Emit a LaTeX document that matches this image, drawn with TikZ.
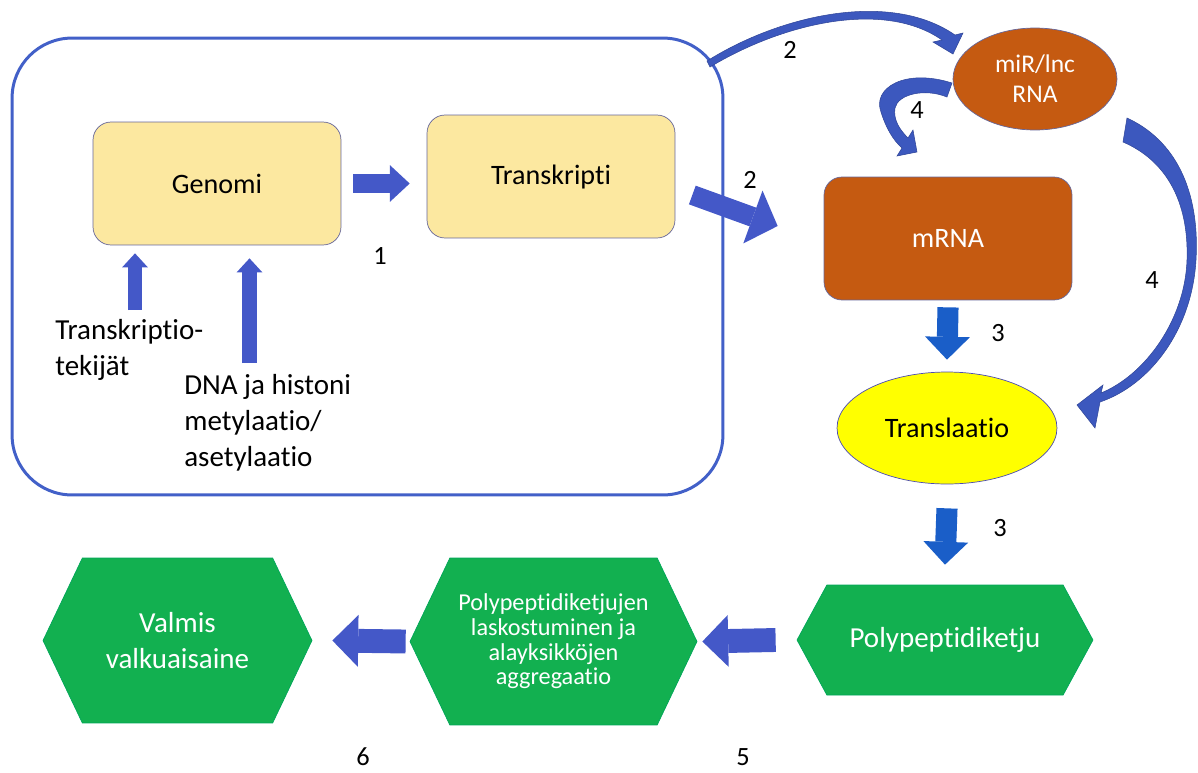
\documentclass[tikz,border=0pt]{standalone}
\usepackage{fontspec}
\setmainfont{Carlito}[Ligatures={NoCommon,NoContextual}, RawFeature=-liga, RawFeature=-clig, RawFeature=-calt]
\usetikzlibrary{shapes.geometric,shapes.symbols,arrows.meta}

\definecolor{tumasin}{RGB}{66,96,200}
\definecolor{nuolisin}{RGB}{68,88,200}
\definecolor{nuolisin2}{RGB}{26,94,200}
\definecolor{kaarisin}{RGB}{60,88,190}
\definecolor{vaaleankelt}{RGB}{252,232,160}
\definecolor{ruskea}{RGB}{197,90,17}
\definecolor{keltainen}{RGB}{255,255,0}
\definecolor{vihrea}{RGB}{18,176,80}

\begin{document}
\begin{tikzpicture}[x=0.02cm, y=-0.02cm,
    laatikko/.style={draw=gray!80!blue, fill=vaaleankelt, rounded corners=0.36cm,
        minimum width=4.96cm, minimum height=2.46cm, font=\fontsize{16}{19}\selectfont},
    rnalaatikko/.style={laatikko, fill=ruskea, text=white},
    kuusikulmio/.style={shape=signal, signal to=west and east, fill=vihrea,
        draw=teal!70!green, text=white, inner sep=0pt, align=center},
    teksti/.style={inner sep=0pt, align=left},
    numero/.style={inner sep=0pt, font=\fontsize{15}{18}\selectfont},
    lohkonuoli/.style={draw=nuolisin, line width=10.8pt,
        -{Triangle[length=11.3pt, width=21pt, line width=0pt]}},
    isonuoli/.style={draw=nuolisin, line width=11.3pt,
        -{Triangle[length=15pt, width=32pt, line width=0pt]}},
    alasnuoli/.style={draw=nuolisin2, line width=12pt,
        -{Triangle[length=13pt, width=25.5pt, line width=0pt]}},
    vasennuoli/.style={draw=nuolisin, line width=13.6pt,
        -{Triangle[length=14.7pt, width=29.5pt, line width=0pt]}},
    ylosnuoli/.style={draw=nuolisin, line width=8.5pt,
        -{Triangle[length=8pt, width=14.7pt, line width=0pt]}},
    kaarinuoli/.style={fill=kaarisin, draw=kaarisin!80!black, line width=0.3pt}
]
\useasboundingbox (0,0) rectangle (1198,772);

% tuma ja sen sisalla tapahtuva transkriptio
\node[draw=tumasin, line width=1.7pt, rounded corners=1.2cm,
    minimum width=14.22cm, minimum height=9.14cm] (tuma) at (367.5,266.5) {};
\node[laatikko] (genomi) at (217,183.5) {Genomi};
\node[laatikko] (transkripti) at (551,176.5) {Transkripti};
\node[teksti, anchor=north west, font=\fontsize{16.5}{20.4}\selectfont] (tekijat) at (55,319)
    {Transkriptio-\\tekijät};
\node[teksti, anchor=north west, font=\fontsize{16.5}{20.4}\selectfont] (dna) at (184,374)
    {DNA ja histoni\\metylaatio/\\asetylaatio};

% RNA:t ja translaatio
\node[rnalaatikko] (mrna) at (948,238.5) {mRNA};
\node[ellipse, draw=gray!80!blue, fill=ruskea, text=white, inner sep=0pt,
    minimum width=3.28cm, minimum height=2.04cm, align=center,
    font=\fontsize{14.5}{17}\selectfont] (mir) at (1035,79) {miR/lnc\\RNA};
\node[ellipse, draw=gray!60!blue, fill=keltainen, inner sep=0pt,
    minimum width=4.4cm, minimum height=2.24cm,
    font=\fontsize{16}{19}\selectfont] (translaatio) at (947,428) {Translaatio};

% proteiinin muodostuminen
\node[kuusikulmio, minimum width=5.92cm, minimum height=2.2cm, signal pointer angle=123,
    font=\fontsize{16.5}{20}\selectfont] (ketju) at (945,640) {Polypeptidiketju};
\node[kuusikulmio, minimum width=5.74cm, minimum height=3.34cm, signal pointer angle=129,
    font=\fontsize{13.8}{14}\selectfont] (laskostus) at (553.5,641.5)
    {Polypeptidiketjujen\\laskostuminen ja\\alayksikköjen\\aggregaatio};
\node[kuusikulmio, minimum width=5.38cm, minimum height=3.3cm, signal pointer angle=129,
    font=\fontsize{16.5}{20}\selectfont] (valmis) at (177.5,640.5) {Valmis\\valkuaisaine};

% suorat nuolet
\draw[lohkonuoli] ([xshift=0.24cm]genomi.east) -- ([xshift=-0.34cm]transkripti.west |- genomi.east);
\draw[isonuoli] ([shift={(17,18.5)}]transkripti.east) -- ([shift={(-46,-12.5)}]mrna.west);
\draw[alasnuoli] ([shift={(0,7)}]mrna.south) -- ([shift={(0,-12)}]translaatio.north);
\draw[alasnuoli] ([shift={(0,24)}]translaatio.south) -- ([shift={(0,-20)}]ketju.north);
\draw[vasennuoli] ([shift={(-21,0)}]ketju.west) -- ([shift={(5,0)}]laskostus.east);
\draw[vasennuoli] ([shift={(-4,0)}]laskostus.west) -- ([shift={(20,0)}]valmis.east);
\draw[ylosnuoli] ([shift={(80,-9)}]tekijat.north west) -- ([shift={(-82,8)}]genomi.south);
\draw[ylosnuoli] ([shift={(65.5,-11)}]dna.north west) -- ([shift={(32.5,13)}]genomi.south);

% kaarevat nuolet
\fill[kaarinuoli] (707,61) .. controls (780,15) and (890,-10) .. (955,35) -- (963,33)
    -- (953,54) -- (933,42) -- (942,40) .. controls (885,0) and (785,22) .. (710,67) -- cycle;
\fill[kaarinuoli] (952,83) .. controls (905,68) and (872,88) .. (881,112)
    .. controls (886,128) and (893,140) .. (902,148) -- (897,156) -- (917,152) -- (913,130)
    -- (908,138) .. controls (900,130) and (893,120) .. (895,108)
    .. controls (898,94) and (925,88) .. (947,97) -- cycle;
\fill[kaarinuoli] (1127,118) .. controls (1175,140) and (1200,190) .. (1196,260)
    .. controls (1192,330) and (1150,385) .. (1100,402) -- (1095,428) -- (1077,405)
    -- (1103,385) -- (1101,393) .. controls (1145,375) and (1185,320) .. (1187,260)
    .. controls (1189,200) and (1165,160) .. (1123,142) -- cycle;

% numerot
\node[numero] (n1) at (380,256) {1};
\node[numero] (n2a) at (790,50) {2};
\node[numero] (n2b) at (750,180) {2};
\node[numero] (n3a) at (998,333) {3};
\node[numero] (n3b) at (1000,528) {3};
\node[numero] (n4a) at (917,110) {4};
\node[numero] (n4b) at (1152,280) {4};
\node[numero] (n5) at (743,757) {5};
\node[numero] (n6) at (363,757) {6};
\end{tikzpicture}
\end{document}
